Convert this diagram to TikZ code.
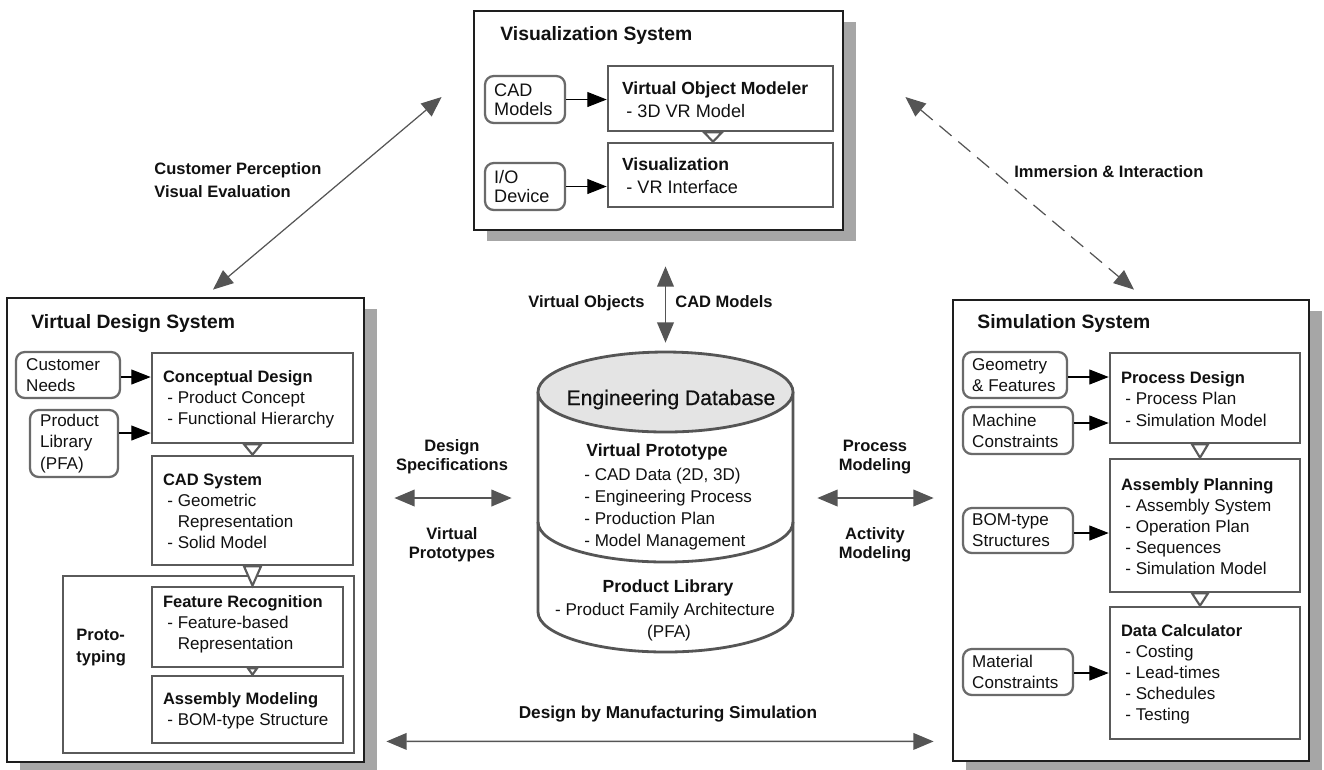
\documentclass[tikz,border=0pt]{standalone}
\usepackage{fontspec}
\setmainfont{Liberation Sans}
\newfontfamily\dbfont[BoldFont={Liberation Sans}, BoldFeatures={FakeBold=0.6}]{Liberation Sans}
\usetikzlibrary{arrows.meta,calc,shadows}
\newlength{\pxu}
\setlength{\pxu}{0.02cm}
\definecolor{ink}{HTML}{111111}
\definecolor{frame}{HTML}{1E1E1E}
\definecolor{boxline}{HTML}{5A5A5A}
\definecolor{pillline}{HTML}{6A6A6A}
\definecolor{shade}{HTML}{A6A6A6}
\definecolor{flow}{HTML}{555555}
\definecolor{dbtop}{HTML}{E4E4E4}
\newcommand{\fbody}{\fontsize{9.7}{12}\selectfont}
\newcommand{\ftop}{\fontsize{10.3}{13}\selectfont}
\newcommand{\bhead}[1]{{\fontsize{9.4}{12}\selectfont\bfseries #1}}
\newcommand{\thead}[1]{{\fontsize{10}{13}\selectfont\bfseries #1}}
\newcommand{\itm}{\hspace*{2.5pt}-\ }
\newcommand{\cnt}{\hspace*{2.5pt}\phantom{-\ }}
\begin{document}
\begin{tikzpicture}[x=1\pxu, y=-1\pxu,
  outer/.style={draw=frame, line width=1.6pt, fill=white, inner sep=0pt,
    drop shadow={shadow xshift=13\pxu, shadow yshift=-11\pxu, fill=shade, opacity=1}},
  blk/.style={draw=boxline, line width=1.5pt, fill=white, inner sep=0pt},
  pill/.style={draw=pillline, line width=1.3pt, fill=white, rounded corners=5pt, inner sep=0pt},
  txt/.style={align=left, inner sep=0pt, font=\fbody, text=ink},
  ttxt/.style={align=left, inner sep=0pt, font=\ftop, text=ink},
  ttl/.style={inner sep=0pt, font=\fontsize{11}{13}\selectfont\bfseries, text=ink},
  lab/.style={inner sep=0pt, font=\fontsize{9.4}{11}\selectfont\bfseries, text=ink},
  dbtxt/.style={inner sep=0pt, font=\fbody, text=ink},
  feed/.style={draw=black, line width=0.6pt, -{Triangle[length=11pt,width=8.5pt]}},
  link/.style={draw=flow, line width=0.8pt, {Triangle[length=11.5pt,width=9.5pt]}-{Triangle[length=11.5pt,width=9.5pt]}},
  tri/.style={draw=boxline, line width=1.2pt, fill=white, line join=miter},
  dbline/.style={draw=flow, line width=1.6pt}
]
\useasboundingbox (0,0) rectangle (1324,769);

% ---------------- Visualization system ----------------
\node[outer, minimum width=369\pxu, minimum height=219\pxu] (vis) at (658.5,120.5) {};
\node[ttl, anchor=base west] (visT) at (500,40.5) {Visualization System};
\node[pill, minimum width=80\pxu, minimum height=47\pxu] (cadm) at (525,99.5) {};
\node[ttxt, anchor=west, font=\fontsize{10.3}{11}\selectfont] (cadmT) at ($(cadm.west)+(10,0)$) {CAD\\Models};
\node[pill, minimum width=80\pxu, minimum height=47\pxu] (iod) at (525,186.5) {};
\node[ttxt, anchor=west, font=\fontsize{10.3}{11}\selectfont] (iodT) at ($(iod.west)+(10,0)$) {I/O\\Device};
\node[blk, minimum width=225\pxu, minimum height=65\pxu] (vom) at (720.5,98.5) {};
\node[ttxt, anchor=west] (vomT) at ($(vom.west)+(15,1)$) {\thead{Virtual Object Modeler}\\\itm 3D VR Model};
\node[blk, minimum width=225\pxu, minimum height=64\pxu] (visz) at (720.5,175) {};
\node[ttxt, anchor=west] (viszT) at ($(visz.west)+(15,1)$) {\thead{Visualization}\\\itm VR Interface};
\draw[tri] ($(vom.south)+(-16.5,0)$) -- ($(vom.south)+(1.5,0)$) -- ($(visz.north)+(-7.5,0)$) -- cycle;
\draw[feed] (cadm.east) -- (cadm.east -| vom.west);
\draw[feed] (iod.east) -- (iod.east -| visz.west);

% ---------------- Virtual design system ----------------
\node[outer, minimum width=357\pxu, minimum height=464\pxu] (vds) at (185.5,530) {};
\node[ttl, anchor=base west] (vdsT) at (31,328) {Virtual Design System};
\node[pill, minimum width=104\pxu, minimum height=46\pxu] (cneeds) at (68,375) {};
\node[txt, anchor=west] (cneedsT) at ($(cneeds.west)+(11,0)$) {Customer\\Needs};
\node[pill, minimum width=88\pxu, minimum height=67\pxu] (plib) at (74,443.5) {};
\node[txt, anchor=west] (plibT) at ($(plib.west)+(11,0)$) {Product\\Library\\(PFA)};
\node[blk, minimum width=201\pxu, minimum height=90\pxu] (cd) at (252.5,398) {};
\node[txt, anchor=west] (cdT) at ($(cd.west)+(12,1)$) {\bhead{Conceptual Design}\\\itm Product Concept\\\itm Functional Hierarchy};
\node[blk, minimum width=201\pxu, minimum height=109\pxu] (cads) at (252.5,510.5) {};
\node[txt, anchor=west] (cadsT) at ($(cads.west)+(12,1)$) {\bhead{CAD System}\\\itm Geometric\\\cnt Representation\\\itm Solid Model};
\node[blk, minimum width=291\pxu, minimum height=177\pxu] (proto) at (208.5,664.5) {};
\node[lab, anchor=base west] (protoT1) at (76,640) {Proto-};
\node[lab, anchor=base west] (protoT2) at (76,662) {typing};
\node[blk, minimum width=191\pxu, minimum height=80\pxu] (fr) at (247.5,627) {};
\node[txt, anchor=west] (frT) at ($(fr.west)+(12,-3)$) {\bhead{Feature Recognition}\\\itm Feature-based\\\cnt Representation};
\node[blk, minimum width=191\pxu, minimum height=67\pxu] (am) at (247.5,709.5) {};
\node[txt, anchor=west] (amT) at ($(am.west)+(12,1)$) {\bhead{Assembly Modeling}\\\itm BOM-type Structure};
\draw[tri] ($(cd.south)+(-8.5,0)$) -- ($(cd.south)+(8.5,0)$) -- (cads.north) -- cycle;
\draw[tri] ($(cads.south)+(-8.5,0)$) -- ($(cads.south)+(8.5,0)$) -- (cads.south |- fr.north) -- cycle;
\draw[tri] ($(cads.south |- fr.south)+(-4.5,0)$) -- ($(cads.south |- fr.south)+(4.5,0)$) -- (cads.south |- am.north) -- cycle;
\coordinate (cnA) at ([yshift=-2\pxu]cneeds.east);
\coordinate (plA) at ([yshift=10.5\pxu]plib.east);
\draw[feed] (cnA) -- (cnA -| cd.west);
\draw[feed] (plA) -- (plA -| cd.west);

% ---------------- Simulation system ----------------
\node[outer, minimum width=356\pxu, minimum height=461\pxu] (sim) at (1131,530.5) {};
\node[ttl, anchor=base west] (simT) at (977,328) {Simulation System};
\node[pill, minimum width=104\pxu, minimum height=46\pxu] (geo) at (1015,375) {};
\node[txt, anchor=west] (geoT) at ($(geo.west)+(10,0)$) {Geometry\\\&~Features};
\node[pill, minimum width=110\pxu, minimum height=47\pxu] (mach) at (1018,430.5) {};
\node[txt, anchor=west] (machT) at ($(mach.west)+(10,0)$) {Machine\\Constraints};
\node[pill, minimum width=110\pxu, minimum height=45\pxu] (bom) at (1018,530.5) {};
\node[txt, anchor=west] (bomT) at ($(bom.west)+(10,0)$) {BOM-type\\Structures};
\node[pill, minimum width=110\pxu, minimum height=46\pxu] (mat) at (1018,672) {};
\node[txt, anchor=west] (matT) at ($(mat.west)+(10,0)$) {Material\\Constraints};
\node[blk, minimum width=190\pxu, minimum height=90\pxu] (pd) at (1205,398) {};
\node[txt, anchor=west] (pdT) at ($(pd.west)+(12,1)$) {\bhead{Process Design}\\\itm Process Plan\\\itm Simulation Model};
\node[blk, minimum width=190\pxu, minimum height=133\pxu] (ap) at (1205,525.5) {};
\node[txt, anchor=west] (apT) at ($(ap.west)+(12,1)$) {\bhead{Assembly Planning}\\\itm Assembly System\\\itm Operation Plan\\\itm Sequences\\\itm Simulation Model};
\node[blk, minimum width=190\pxu, minimum height=132\pxu] (dc) at (1205,673) {};
\node[txt, anchor=west] (dcT) at ($(dc.west)+(12,1)$) {\bhead{Data Calculator}\\\itm Costing\\\itm Lead-times\\\itm Schedules\\\itm Testing};
\draw[tri] ($(pd.south)+(-13,0)$) -- ($(pd.south)+(3,0)$) -- ($(ap.north)+(-5,0)$) -- cycle;
\draw[tri] ($(ap.south)+(-13,0)$) -- ($(ap.south)+(3,0)$) -- ($(dc.north)+(-5,0)$) -- cycle;
\coordinate (geA) at ([yshift=-2\pxu]geo.east);
\coordinate (maA) at ([yshift=7.5\pxu]mach.east);
\coordinate (boA) at ([yshift=-2.5\pxu]bom.east);
\coordinate (mtA) at ([yshift=-1\pxu]mat.east);
\draw[feed] (geA) -- (geA -| pd.west);
\draw[feed] (maA) -- (maA -| pd.west);
\draw[feed] (boA) -- (boA -| ap.west);
\draw[feed] (mtA) -- (mtA -| dc.west);

% ---------------- Engineering database ----------------
\node[inner sep=0pt, minimum width=255\pxu, minimum height=292\pxu] (db) at (665.5,498) {};
\draw[dbline, fill=white] (538,392) -- (538,612)
  arc[start angle=180, end angle=0, x radius=127.5, y radius=40] -- (793,392);
\draw[dbline] (538,522) arc[start angle=180, end angle=0, x radius=127.5, y radius=40];
\draw[dbline, fill=dbtop] (665.5,392) ellipse [x radius=127.5, y radius=40];
\node[dbtxt, anchor=base, font=\dbfont\bfseries\fontsize{12}{14}\selectfont] (dbT) at (671,405) {Engineering Database};
\node[dbtxt, anchor=base west, font=\fontsize{10}{12}\selectfont\bfseries] (vpT) at (586,456.5) {Virtual Prototype};
\node[dbtxt, anchor=base west] (vp1) at (584,480.5) {- CAD Data (2D, 3D)};
\node[dbtxt, anchor=base west] (vp2) at (584,502.5) {- Engineering Process};
\node[dbtxt, anchor=base west] (vp3) at (584,524.5) {- Production Plan};
\node[dbtxt, anchor=base west] (vp4) at (584,546.5) {- Model Management};
\node[dbtxt, anchor=base, font=\fontsize{10}{12}\selectfont\bfseries] (plT) at (668,592) {Product Library};
\node[dbtxt, anchor=base] (pl1) at (665,615) {- Product Family Architecture};
\node[dbtxt, anchor=base] (pl2) at (669,637) {(PFA)};

% ---------------- Links between the systems ----------------
\draw[link, shorten <=35\pxu, shorten >=9\pxu] (db.north |- vis.south) -- (db.north);
\node[lab, anchor=base east] (voL) at (645,307) {Virtual Objects};
\node[lab, anchor=base west] (cmL) at (675,307) {CAD Models};

\draw[link, shorten <=29\pxu, shorten >=26\pxu] (vds.east |- db.west) -- (db.west);
\node[lab, anchor=base] (dsL1) at (452,451) {Design};
\node[lab, anchor=base] (dsL2) at (452,470) {Specifications};
\node[lab, anchor=base] (vpL1) at (452,539) {Virtual};
\node[lab, anchor=base] (vpL2) at (452,558) {Prototypes};

\draw[link, shorten <=24\pxu, shorten >=18\pxu] (db.east) -- (db.east -| sim.west);
\node[lab, anchor=base] (pmL1) at (875,451) {Process};
\node[lab, anchor=base] (pmL2) at (875,470) {Modeling};
\node[lab, anchor=base] (amL1) at (875,539) {Activity};
\node[lab, anchor=base] (amL2) at (875,558) {Modeling};

\draw[link] ($(vds.south east)+(21,-22)$) -- ($(sim.south west)+(-18,-21)$);
\node[lab, anchor=base, font=\fontsize{9.8}{11}\selectfont\bfseries] (dmL) at (668,718) {Design by Manufacturing Simulation};

\draw[link, line width=0.7pt] ($(vis.west)+(-31,-23.5)$) -- ($(vds.north)+(27.5,-7)$);
\node[lab, anchor=base west] (cpL1) at (154,174) {Customer Perception};
\node[lab, anchor=base west] (cpL2) at (154,197) {Visual Evaluation};

\draw[link, line width=0.7pt, dash pattern=on 9pt off 5pt] ($(vis.east)+(61,-23.5)$) -- ($(sim.north)+(3,-9)$);
\node[lab, anchor=base west] (iiL) at (1014,177) {Immersion \& Interaction};
\end{tikzpicture}
\end{document}
